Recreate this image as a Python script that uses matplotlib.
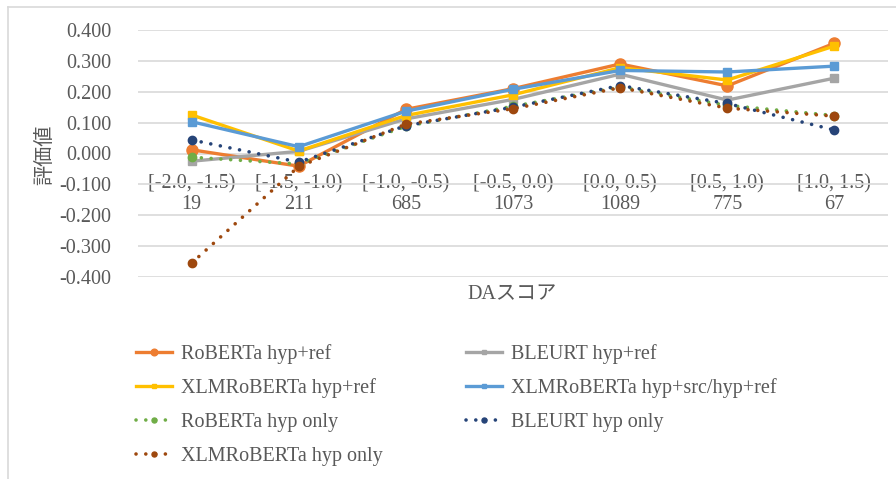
import matplotlib
matplotlib.use("Agg")
import matplotlib.pyplot as plt
from matplotlib.lines import Line2D

categories = ["[-2.0, -1.5)", "[-1.5, -1.0)", "[-1.0, -0.5)", "[-0.5, 0.0)",
              "[0.0, 0.5)", "[0.5, 1.0)", "[1.0, 1.5)"]
counts = ["19", "211", "685", "1073", "1089", "775", "67"]

roberta_ref = [0.012, -0.041, 0.143, 0.210, 0.290, 0.219, 0.357]
bleurt_ref = [-0.025, 0.007, 0.112, 0.175, 0.257, 0.173, 0.244]
xlmr_ref = [0.125, 0.008, 0.123, 0.190, 0.278, 0.238, 0.348]
xlmr_src = [0.103, 0.022, 0.137, 0.208, 0.269, 0.264, 0.283]
roberta_hyp = [-0.012, -0.034, 0.088, 0.153, 0.215, 0.156, 0.123]
bleurt_hyp = [0.044, -0.028, 0.090, 0.150, 0.220, 0.162, 0.076]
xlmr_hyp = [-0.355, -0.042, 0.095, 0.145, 0.213, 0.147, 0.121]

series = [
    ("RoBERTa hyp+ref", roberta_ref, "#ED7D31", "-", "o", 8),
    ("BLEURT hyp+ref", bleurt_ref, "#A5A5A5", "-", "s", 5.5),
    ("XLMRoBERTa hyp+ref", xlmr_ref, "#FFC000", "-", "s", 5.5),
    ("XLMRoBERTa hyp+src/hyp+ref", xlmr_src, "#5B9BD5", "-", "s", 5.5),
    ("RoBERTa hyp only", roberta_hyp, "#70AD47", "dot", "o", 6),
    ("BLEURT hyp only", bleurt_hyp, "#264478", "dot", "o", 6),
    ("XLMRoBERTa hyp only", xlmr_hyp, "#9E480E", "dot", "o", 6),
]

W, H = 896, 479
fig = plt.figure(figsize=(W / 100, H / 100), dpi=100)
ax = fig.add_axes([138 / W, 1 - 277 / H, (888 - 138) / W, (277 - 30) / H])

serif = ["Liberation Serif", "Noto Sans CJK JP"]
tc = "#595959"

ax.spines["bottom"].set_position(("data", 0))
for s in ["top", "right", "left", "bottom"]:
    ax.spines[s].set_visible(False)

x = list(range(len(categories)))
handles = []
for name, vals, col, ls, mk, ms in series:
    if ls == "dot":
        line, = ax.plot(x, vals, color=col, lw=2.6, linestyle=(0, (0.01, 2.7)),
                        dash_capstyle="round", marker=mk, markersize=ms,
                        markerfacecolor=col, markeredgecolor=col, zorder=3)
    else:
        line, = ax.plot(x, vals, color=col, lw=2.4, linestyle="-",
                        marker=mk, markersize=ms, markerfacecolor=col,
                        markeredgecolor=col, zorder=3)
    handles.append(line)

ax.set_xlim(-0.5, len(categories) - 0.5)
ax.set_ylim(-0.4, 0.4)
yt = [-0.4, -0.3, -0.2, -0.1, 0.0, 0.1, 0.2, 0.3, 0.4]
ax.set_yticks(yt)
ax.set_yticklabels([f"{v:.3f}" for v in yt], family=serif, fontsize=14.5, color=tc)
ax.grid(axis="y", color="#D9D9D9", lw=1.2, zorder=0)
ax.set_axisbelow(True)

ax.set_xticks(x)
ax.set_xticklabels([f"{c}\n{n}" for c, n in zip(categories, counts)],
                   family=serif, fontsize=14.5, color=tc, linespacing=1.1)
ax.tick_params(axis="x", length=0, pad=15)
ax.tick_params(axis="y", length=0, pad=19)

fig.text(45 / W, 1 - 155 / H, "評価値", rotation=90, ha="center", va="center",
         fontsize=14.5, color=tc, family=["Noto Sans CJK JP", "Liberation Serif"])
fig.text(512 / W, 1 - 295 / H, "DAスコア", ha="center", va="center",
         fontsize=14.5, color=tc, family=serif)

# chart border (left & top)
fig.add_artist(Line2D([8 / W, 8 / W], [0, 1 - 7 / H], color="#D9D9D9", lw=1.2,
                      transform=fig.transFigure))
fig.add_artist(Line2D([8 / W, 1], [1 - 7 / H, 1 - 7 / H], color="#D9D9D9", lw=1.2,
                      transform=fig.transFigure))

order = [0, 2, 4, 6, 1, 3, 5]
leg = fig.legend([handles[i] for i in order], [series[i][0] for i in order],
                 ncol=2, loc="upper left", bbox_to_anchor=(128 / W, 1 - 336 / H),
                 frameon=False, prop={"family": serif, "size": 14.5},
                 handlelength=1.8, handletextpad=0.45, labelspacing=0.72,
                 columnspacing=4.1, labelcolor=tc, borderaxespad=0,
                 markerscale=0.6)

fig.savefig("out.png", dpi=100)
